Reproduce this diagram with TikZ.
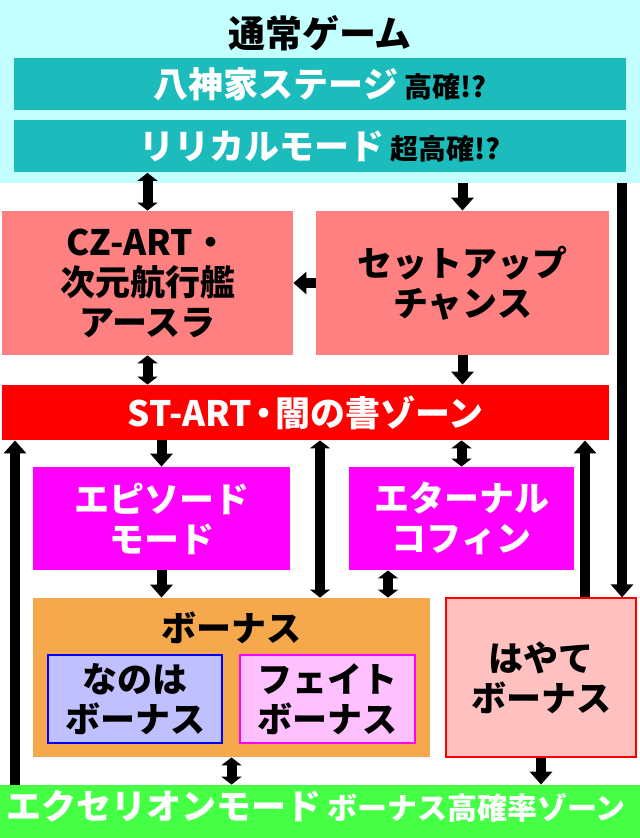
\documentclass[tikz,border=0pt]{standalone}
\usepackage{fontspec}
\setmainfont{Noto Sans CJK JP}
\usetikzlibrary{arrows.meta}
\definecolor{cyanbg}{HTML}{C4FFFF}
\definecolor{teal1}{HTML}{1CBCBC}
\definecolor{salmon}{HTML}{FF8080}
\definecolor{redbar}{HTML}{FF0000}
\definecolor{mag}{HTML}{FF00FF}
\definecolor{orng}{HTML}{F5A94C}
\definecolor{lav}{HTML}{C0C0FF}
\definecolor{pinkf}{HTML}{FFC0FF}
\definecolor{hay}{HTML}{FFC0C0}
\definecolor{grn}{HTML}{44FF44}
\tikzset{
 box/.style={inner sep=0pt, align=center, font=\bfseries\fontsize{17.5}{20}\selectfont},
 arr/.style={line width=5pt, -{Triangle[width=11pt,length=6.5pt]}},
 darr/.style={line width=5pt, {Triangle[width=10pt,length=4pt]}-{Triangle[width=10pt,length=4pt]}},
}
\begin{document}
\begin{tikzpicture}[x=0.5pt,y=-0.5pt]
\useasboundingbox (0,0) rectangle (640,838);
\node[box, fill=cyanbg, minimum width=320pt, minimum height=91.5pt] (top) at (320,91.5) {};
\node[box, font=\bfseries\fontsize{18.5}{20}\selectfont] (title) at (320,33) {通常ゲーム};
\node[box, fill=teal1, minimum width=306pt, minimum height=26pt, text=white] (t1) at (320,84) {八神家ステージ\,{\color{black}\fontsize{14}{15}\selectfont 高確!?}};
\node[box, fill=teal1, minimum width=306pt, minimum height=26pt, text=white] (t2) at (320,146.5) {リリカルモード\,{\color{black}\fontsize{14}{15}\selectfont 超高確!?}};
\node[box, fill=salmon, minimum width=145.5pt, minimum height=72pt] (cz) at (147.5,283) {CZ-ART・\\次元航行艦\\アースラ};
\node[box, fill=salmon, minimum width=146.5pt, minimum height=72pt] (setup) at (462.5,283) {セットアップ\\チャンス};
\node[box, fill=redbar, minimum width=303.5pt, minimum height=27.5pt, text=white] (st) at (305.5,412.5) {ST-ART\kern-3pt・\kern-3pt闇の書ゾーン};
\node[box, fill=mag, minimum width=128.5pt, minimum height=51.5pt, text=white] (ep) at (161.5,518.5) {エピソード\\モード};
\node[box, fill=mag, minimum width=112.5pt, minimum height=51.5pt, text=white] (et) at (461.5,518.5) {エターナル\\コフィン};
\node[box, fill=orng, minimum width=198.5pt, minimum height=79.5pt] (bon) at (231.5,677.5) {};
\node[box] (bont) at (231.5,628) {ボーナス};
\node[box, fill=lav, draw=blue, line width=0.6pt, minimum width=87pt, minimum height=44pt] (nano) at (135,699) {なのは\\ボーナス};
\node[box, fill=pinkf, draw=mag, line width=0.6pt, minimum width=87.5pt, minimum height=44pt] (fate) at (327.5,699) {フェイト\\ボーナス};
\node[box, fill=hay, draw=red, line width=0.6pt, minimum width=95pt, minimum height=79.5pt] (haya) at (541,677.5) {はやて\\ボーナス};
\node[box, fill=grn, minimum width=320pt, minimum height=26.5pt] (gr) at (320,811.5) {};
\node[box, text=white, anchor=west] (gl) at (6,806) {エクセリオンモード\,{\fontsize{15}{16}\selectfont ボーナス高確率ゾーン}};
\coordinate (xa) at (320,0);
\coordinate (xb) at (388,0);
\coordinate (xc) at (585,0);
\coordinate (xd) at (622,0);
\coordinate (xe) at (15,0);
\draw[darr] (t2.south -| cz) -- (cz.north);
\draw[arr] (top.south -| setup) -- (setup.north);
\draw[arr] (setup.west) -- (cz.east);
\draw[darr] (cz.south) -- (st.north -| cz);
\draw[arr] (setup.south) -- (st.north -| setup);
\draw[arr] (st.south -| ep) -- (ep.north);
\draw[darr] (st.south -| xa) -- (bon.north -| xa);
\draw[darr] (st.south -| et) -- (et.north);
\draw[arr] (ep.south) -- (bon.north -| ep);
\draw[darr] (et.south -| xb) -- (bon.north -| xb);
\draw[arr] (haya.north -| xc) -- (st.south -| xc);
\draw[arr] (top.south -| xd) -- (haya.north -| xd);
\draw[arr] (gr.north -| xe) -- (st.south -| xe);
\draw[darr] (bon.south) -- (gr.north -| bon);
\draw[arr] (haya.south) -- (gr.north -| haya);
\end{tikzpicture}
\end{document}
